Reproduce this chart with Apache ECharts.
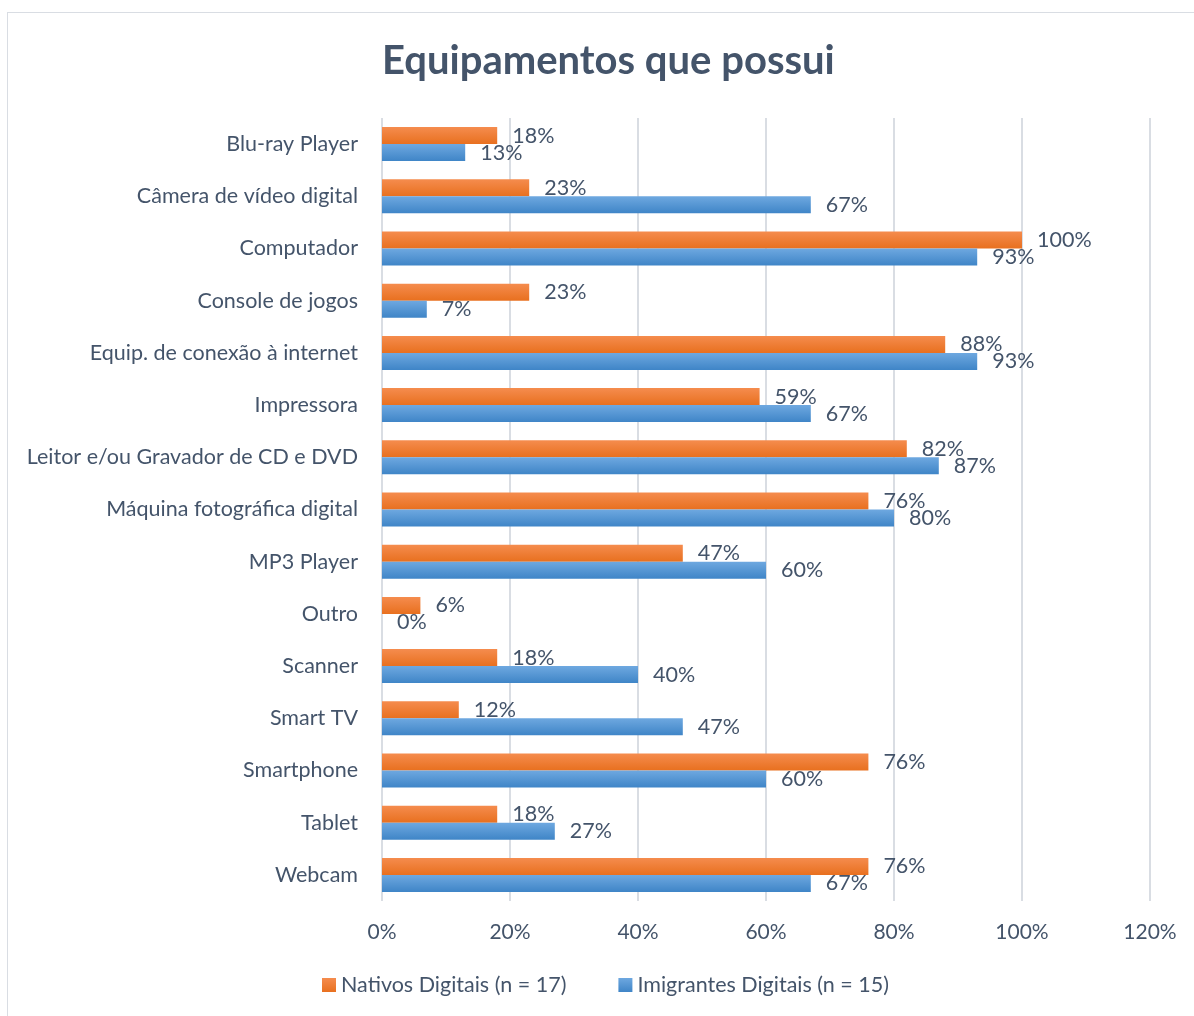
<!DOCTYPE html>
<html>
<head>
<meta charset="utf-8">
<script src="https://cdn.jsdelivr.net/npm/echarts@6/dist/echarts.min.js"></script>
<style>
  html, body { margin: 0; padding: 0; background: #ffffff; }
  #frame { position: absolute; left: 7px; top: 12px; width: 1200px; height: 1020px; border: 1px solid #d9dde3; box-sizing: border-box; }
  #chart { position: absolute; left: 0; top: 0; width: 1194px; height: 1016px; }
</style>
</head>
<body>
<div id="frame"></div>
<div id="chart"></div>
<script>
const categories = [
  'Blu-ray Player', 'Câmera de vídeo digital', 'Computador', 'Console de jogos',
  'Equip. de conexão à internet', 'Impressora', 'Leitor e/ou Gravador de CD e DVD',
  'Máquina fotográfica digital', 'MP3 Player', 'Outro', 'Scanner', 'Smart TV',
  'Smartphone', 'Tablet', 'Webcam'
]
const nativos = [18, 23, 100, 23, 88, 59, 82, 76, 47, 6, 18, 12, 76, 18, 76]
const imigrantes = [13, 67, 93, 7, 93, 67, 87, 80, 60, 0, 40, 47, 60, 27, 67]
const seriesNames = ['Nativos Digitais (n = 17)', 'Imigrantes Digitais (n = 15)']

const textColor = '#44546a'
const font = 'Lato'

const chart = echarts.init(document.getElementById('chart'))

function grad(top, bottom) {
  return new echarts.graphic.LinearGradient(0, 0, 0, 1, [
    { offset: 0, color: top },
    { offset: 1, color: bottom }
  ])
}

const labelStyle = {
  show: true,
  position: 'right',
  distance: 15,
  formatter: '{c}%',
  color: textColor,
  fontSize: 21.5,
  fontFamily: font
}

chart.setOption({
  backgroundColor: 'transparent',
  title: {
    text: 'Equipamentos que possui',
    left: 377,
    top: 36,
    textStyle: {
      color: textColor,
      fontSize: 40,
      fontWeight: 'bold',
      fontFamily: font
    }
  },
  legend: {
    bottom: 15,
    left: 317,
    icon: 'rect',
    itemWidth: 14,
    itemHeight: 14,
    itemGap: 52,
    textStyle: {
      color: textColor,
      fontSize: 21.5,
      fontFamily: font
    },
    data: seriesNames
  },
  grid: {
    left: 382,
    right: 44,
    top: 118,
    bottom: 115
  },
  xAxis: {
    type: 'value',
    min: 0,
    max: 120,
    interval: 20,
    axisLine: { show: false },
    axisTick: { show: false },
    axisLabel: {
      formatter: '{value}%',
      color: textColor,
      fontSize: 21,
      fontFamily: font,
      margin: 21
    },
    splitLine: { lineStyle: { color: '#d9dde3', width: 2 } }
  },
  yAxis: {
    type: 'category',
    inverse: true,
    data: categories,
    axisLine: { show: false },
    axisTick: { show: false },
    axisLabel: {
      color: textColor,
      fontSize: 21.5,
      fontFamily: font,
      margin: 24
    }
  },
  series: [
    {
      name: seriesNames[0],
      type: 'bar',
      data: nativos,
      barWidth: 17,
      barGap: '0%',
      itemStyle: { color: grad('#f58c4e', '#e8701f') },
      label: labelStyle
    },
    {
      name: seriesNames[1],
      type: 'bar',
      data: imigrantes,
      barWidth: 17,
      itemStyle: { color: grad('#6ea8e0', '#3f85c7') },
      label: labelStyle
    }
  ]
})
</script>
</body>
</html>
